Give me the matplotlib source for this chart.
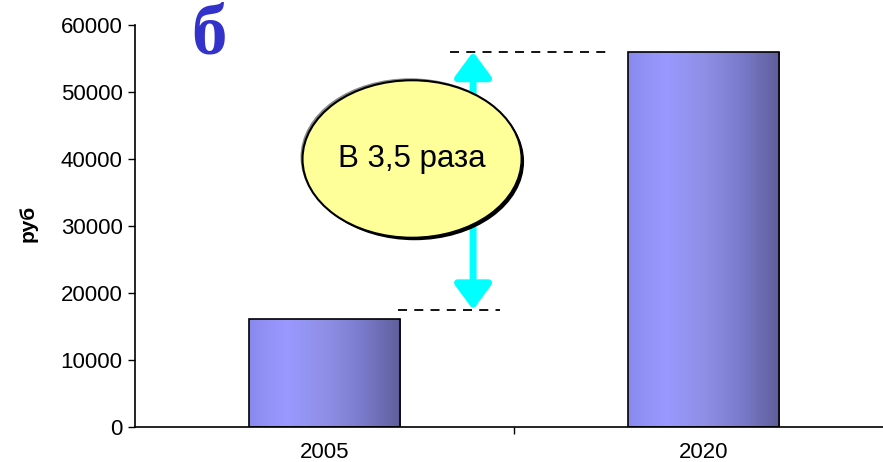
import numpy as np
import matplotlib
matplotlib.use('Agg')
import matplotlib.pyplot as plt
from matplotlib.patches import Ellipse, FancyArrowPatch
from matplotlib.colors import LinearSegmentedColormap

plt.rcParams['font.family'] = ['Liberation Sans', 'DejaVu Sans']

years = ['2005', '2020']
values = [16100, 56000]
ratio_label = 'В 3,5 раза'
low_level = 17500
high_level = 56000

fig = plt.figure(figsize=(8.83, 4.62), dpi=100)
ax = fig.add_axes([135 / 883, 35 / 462, 758 / 883, 402 / 462])

x = np.arange(len(years))
bars = ax.bar(x, values, width=0.40, color='none', edgecolor='black', linewidth=1.2, zorder=3)

# horizontal gradient inside every bar
grad_cmap = LinearSegmentedColormap.from_list(
    'bar', ['#8a8aee', '#9999ff', '#8f8fe6', '#7a7acc', '#5e5e9a'])
grad = np.linspace(0, 1, 256).reshape(1, -1)
for b in bars:
    im = ax.imshow(grad, cmap=grad_cmap, aspect='auto', zorder=2,
                   extent=[b.get_x(), b.get_x() + b.get_width(), 0, b.get_height()])
    im.set_clip_path(b)

ax.set_xlim(-0.5, 1.5)
ax.set_ylim(0, 60000)
ax.set_yticks(np.arange(0, 60001, 10000))
ax.set_xticks(x)
ax.set_xticklabels(years)
ax.set_xticks([0.5, 1.5], minor=True)
ax.tick_params(axis='x', which='major', length=0, pad=11, labelsize=16)
ax.tick_params(axis='x', which='minor', length=5, direction='out', width=1)
ax.tick_params(axis='y', length=5, width=1, labelsize=16, pad=4)
for s in ['top', 'right']:
    ax.spines[s].set_visible(False)
ax.spines['left'].set_linewidth(1.2)
ax.spines['bottom'].set_linewidth(1.2)

# dashed reference levels
ax.plot([0.331, 0.753], [high_level, high_level], ls=(0, (5, 4)), color='black', lw=1.3, zorder=4)
ax.plot([0.194, 0.463], [low_level, low_level], ls=(0, (5, 4)), color='black', lw=1.3, zorder=4)

# double arrow
arr = FancyArrowPatch((0.392, low_level), (0.392, high_level),
                      arrowstyle='<|-|>,head_length=0.95,head_width=0.7',
                      color='#00ffff', lw=5, mutation_scale=16, zorder=4,
                      shrinkA=0, shrinkB=0)
ax.add_patch(arr)

# ellipse with shadows
px_x = 1 / 379
px_y = 60000 / 402
ex, ey, ew, eh = 0.231, 40000, 0.578, 23500
ax.add_patch(Ellipse((ex - 2 * px_x, ey + 2 * px_y), ew, eh, facecolor='#888888',
                     edgecolor='none', zorder=5))
ax.add_patch(Ellipse((ex + 2.5 * px_x, ey - 2.5 * px_y), ew, eh, facecolor='black',
                     edgecolor='none', zorder=5))
ax.add_patch(Ellipse((ex, ey), ew, eh, facecolor='#ffff99',
                     edgecolor='black', lw=1.5, zorder=6))
ax.text(ex, ey, ratio_label, ha='center', va='center', fontsize=22.5, zorder=7)

fig.text(28 / 883, 1 - 223 / 462, 'руб', rotation=90, ha='center', va='center',
         fontsize=15, fontweight='bold')
fig.text(209 / 883, 1 - 36 / 462, 'б', ha='center', va='center', fontsize=51,
         fontweight='bold', color='#3333cc', family=['Liberation Serif', 'DejaVu Serif'])

fig.savefig('out.png', dpi=100)
